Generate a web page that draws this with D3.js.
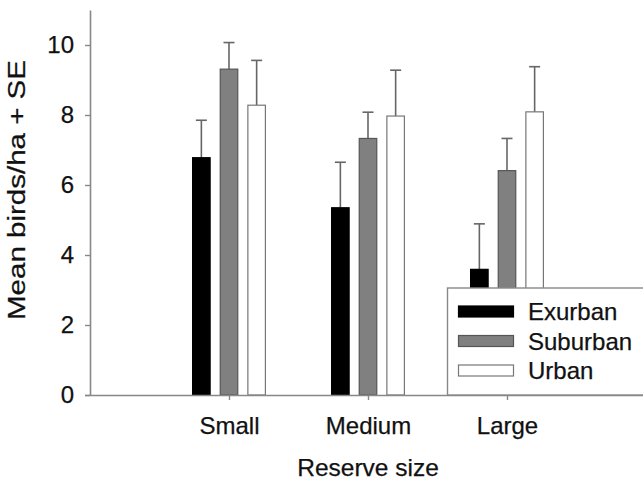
<!DOCTYPE html>
<html>
<head>
<meta charset="utf-8">
<script src="https://cdn.jsdelivr.net/npm/d3@7"></script>
<style>
  body { margin: 0; background: #fff; }
  svg text { font-family: "Liberation Sans", Arial, sans-serif; fill: #111; stroke: #111; stroke-width: 0.25px; }
</style>
</head>
<body>
<div id="chart"></div>
<script>
// Reserve sizes and urbanization series
const categories = ["Small", "Medium", "Large"];
const series = ["Exurban", "Suburban", "Urban"];

// mean birds/ha, one array per series (Small, Medium, Large)
const exurbanMean = [6.78, 5.35, 3.59];
const suburbanMean = [9.31, 7.33, 6.41];
const urbanMean = [8.28, 7.97, 8.09];

// standard errors
const exurbanSE = [1.07, 1.30, 1.30];
const suburbanSE = [0.76, 0.75, 0.92];
const urbanSE = [1.28, 1.31, 1.29];

const yTicks = [0, 2, 4, 6, 8, 10];

const means = [exurbanMean, suburbanMean, urbanMean];
const ses = [exurbanSE, suburbanSE, urbanSE];

const fills = {Exurban: "#000", Suburban: "#808080", Urban: "#fff"};
const strokes = {Exurban: "#000", Suburban: "#555", Urban: "#777"};

let width = 643, height = 483;

let svg = d3.select("#chart").append("svg")
    .attr("width", width)
    .attr("height", height);

// Scales
let x = d3.scaleLinear()
    .domain([0, categories.length + 1])
    .range([90, 646]);

let xInner = d3.scaleBand()
    .domain(series)
    .range([-36.4, 36.4])
    .paddingInner(0.366);

let y = d3.scaleLinear()
    .domain([0, 11])
    .range([395, 10]);

// Build rows
let rows = [];
categories.forEach((c, i) => {
    series.forEach((s, j) => {
        rows.push({cat: c, idx: i + 1, series: s, mean: means[j][i], se: ses[j][i]});
    });
});

// Error bars (upper only)
let err = svg.append("g").attr("class", "errors");
err.selectAll("line.stem")
    .data(rows)
    .enter().append("line")
    .attr("class", "stem")
    .attr("x1", d => x(d.idx) + xInner(d.series) + xInner.bandwidth() / 2)
    .attr("x2", d => x(d.idx) + xInner(d.series) + xInner.bandwidth() / 2)
    .attr("y1", d => y(d.mean))
    .attr("y2", d => y(d.mean + d.se))
    .attr("stroke", "#666")
    .attr("stroke-width", 1.6);

err.selectAll("line.cap")
    .data(rows)
    .enter().append("line")
    .attr("class", "cap")
    .attr("x1", d => x(d.idx) + xInner(d.series) + xInner.bandwidth() / 2 - 5.5)
    .attr("x2", d => x(d.idx) + xInner(d.series) + xInner.bandwidth() / 2 + 5.5)
    .attr("y1", d => y(d.mean + d.se))
    .attr("y2", d => y(d.mean + d.se))
    .attr("stroke", "#666")
    .attr("stroke-width", 1.6);

// Bars
svg.append("g").selectAll("rect")
    .data(rows)
    .enter().append("rect")
    .attr("x", d => x(d.idx) + xInner(d.series))
    .attr("y", d => y(d.mean))
    .attr("width", xInner.bandwidth())
    .attr("height", d => y(0) - y(d.mean))
    .attr("fill", d => fills[d.series])
    .attr("stroke", d => strokes[d.series])
    .attr("stroke-width", 1.2);

// Y axis
let yAxis = d3.axisLeft(y)
    .tickValues(yTicks)
    .tickSize(5)
    .tickPadding(11)
    .tickSizeOuter(0);

let yG = svg.append("g")
    .attr("transform", "translate(90,0)")
    .call(yAxis);
yG.select(".domain").attr("stroke", "#888").attr("stroke-width", 1.6);
yG.selectAll(".tick line").attr("stroke", "#888").attr("stroke-width", 1.4);
yG.selectAll(".tick text")
    .attr("font-size", "24px")
    .attr("fill", "#111");

// X axis
let xAxis = d3.axisBottom(x)
    .tickValues(categories.map((c, i) => i + 1))
    .tickFormat(d => categories[d - 1])
    .tickSize(5)
    .tickPadding(17)
    .tickSizeOuter(0);

let xG = svg.append("g")
    .attr("transform", "translate(0,395)")
    .call(xAxis);
xG.select(".domain")
    .attr("d", "M85,0.5H643")
    .attr("stroke", "#888").attr("stroke-width", 1.6);
xG.selectAll(".tick line").attr("stroke", "#888").attr("stroke-width", 1.4);
xG.selectAll(".tick text")
    .attr("font-size", "24px")
    .attr("fill", "#111");

// Axis titles
svg.append("text")
    .attr("x", x(2))
    .attr("y", 476)
    .attr("text-anchor", "middle")
    .attr("font-size", "24.5px")
    .text("Reserve size");

svg.append("text")
    .attr("transform", "translate(25,190) rotate(-90)")
    .attr("text-anchor", "middle")
    .attr("font-size", "23.5px")
    .attr("textLength", 260)
    .attr("lengthAdjust", "spacingAndGlyphs")
    .text("Mean birds/ha + SE");

// Legend
let legend = svg.append("g").attr("class", "legend");
legend.append("rect")
    .attr("x", 447.5)
    .attr("y", 288)
    .attr("width", 220)
    .attr("height", 107)
    .attr("fill", "#fff")
    .attr("stroke", "#888")
    .attr("stroke-width", 1.4);

let items = legend.selectAll("g.item")
    .data(series)
    .enter().append("g")
    .attr("class", "item")
    .attr("transform", (d, i) => "translate(0," + (306 + i * 29.5) + ")");

items.append("rect")
    .attr("x", 458.5)
    .attr("y", 0)
    .attr("width", 55)
    .attr("height", 11)
    .attr("fill", d => fills[d])
    .attr("stroke", d => strokes[d])
    .attr("stroke-width", 1.2);

items.append("text")
    .attr("x", 528)
    .attr("y", 14)
    .attr("font-size", "24px")
    .text(d => d);
</script>
</body>
</html>
